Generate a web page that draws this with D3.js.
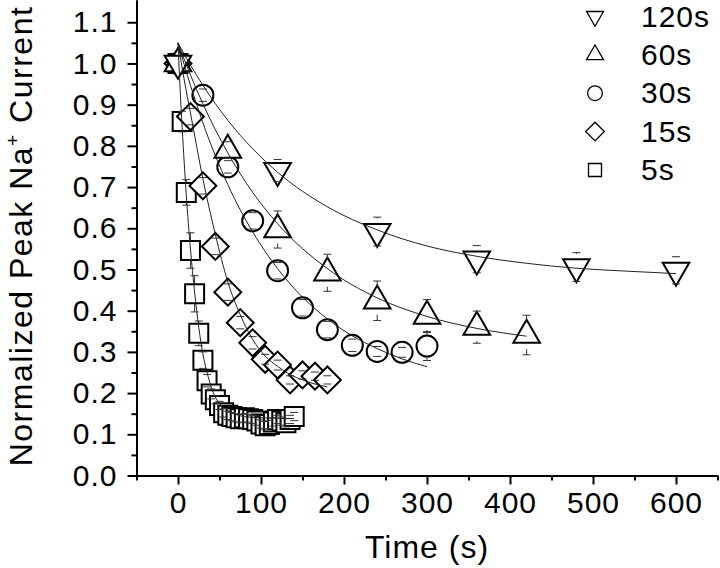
<!DOCTYPE html>
<html>
<head>
<meta charset="utf-8">
<script src="https://cdn.jsdelivr.net/npm/d3@7"></script>
<style>
    body { margin: 0; background: white; }
    text { font-family: "Liberation Sans", Arial, sans-serif; fill: black; }
</style>
</head>
<body>
<div id="container"></div>
<script>
// pulse interval series: time (s), normalized current, error
const t120 = [0, 120, 240, 360, 480, 600]
const v120 = [1.0, 0.740, 0.592, 0.525, 0.506, 0.498]
const e120 = [0, 0.027, 0.035, 0.033, 0.035, 0.033]

const t60 = [0, 60, 120, 180, 240, 300, 360, 420]
const v60 = [1.0, 0.790, 0.597, 0.492, 0.424, 0.387, 0.360, 0.341]
const e60 = [0, 0.02, 0.045, 0.045, 0.048, 0.04, 0.039, 0.048]

const t30 = [0, 30, 60, 90, 120, 150, 180, 210, 240, 270, 300]
const v30 = [1.0, 0.923, 0.749, 0.618, 0.497, 0.407, 0.354, 0.316, 0.301, 0.299, 0.314]
const e30 = [0, 0.015, 0.015, 0.02, 0.02, 0.02, 0.02, 0.015, 0.012, 0.012, 0.035]

const t15 = [0, 15, 30, 45, 60, 75, 90, 105, 120, 135, 150, 165, 180]
const v15 = [1.0, 0.871, 0.703, 0.556, 0.445, 0.371, 0.322, 0.282, 0.268, 0.232, 0.244, 0.241, 0.232]
const e15 = [0, 0.02, 0.02, 0.02, 0.02, 0.015, 0.015, 0.012, 0.012, 0.01, 0.01, 0.01, 0.01]

const t5 = [0, 5, 10, 15, 20, 25, 30, 35, 40, 45, 50, 55, 60, 65, 70, 75, 80, 85, 90, 95, 100, 105, 110, 115, 120, 125, 130, 135, 140]
const v5 = [1.0, 0.859, 0.687, 0.546, 0.441, 0.345, 0.280, 0.230, 0.198, 0.184, 0.170, 0.152, 0.146, 0.143, 0.140, 0.138, 0.140, 0.138, 0.136, 0.132, 0.125, 0.121, 0.124, 0.130, 0.136, 0.132, 0.128, 0.136, 0.143]
const e5 = [0, 0.025, 0.031, 0.043, 0.044, 0.03, 0.02, 0.015, 0.012, 0.01, 0.01, 0.01, 0.01, 0.01, 0.01, 0.01, 0.01, 0.01, 0.01, 0.01, 0.01, 0.01, 0.01, 0.01, 0.01, 0.01, 0.01, 0.01, 0.01]

// fitted decay curves
const fit120T = [0, 15, 30, 60, 90, 120, 180, 240, 300, 360, 420, 480, 540, 600]
const fit120V = [1.05, 0.996, 0.947, 0.862, 0.793, 0.736, 0.652, 0.596, 0.557, 0.532, 0.515, 0.503, 0.496, 0.490]
const fit60T = [0, 15, 30, 60, 90, 120, 180, 240, 300, 360, 420]
const fit60V = [1.05, 0.972, 0.902, 0.783, 0.687, 0.611, 0.502, 0.431, 0.386, 0.357, 0.338]
const fit30T = [0, 15, 30, 60, 90, 120, 150, 180, 210, 240, 270, 300]
const fit30V = [1.05, 0.947, 0.856, 0.706, 0.591, 0.502, 0.433, 0.380, 0.339, 0.308, 0.283, 0.264]
const fit15T = [0, 7.5, 15, 30, 45, 60, 75, 90, 105, 120, 135, 150, 165, 180]
const fit15V = [1.05, 0.96, 0.88, 0.72, 0.585, 0.47, 0.39, 0.33, 0.29, 0.265, 0.245, 0.232, 0.222, 0.215]
const fit5T = [0, 2.5, 5, 10, 15, 20, 25, 30, 35, 40, 45, 50, 60, 70, 80, 100, 120, 140]
const fit5V = [1.05, 0.94, 0.845, 0.68, 0.55, 0.445, 0.36, 0.295, 0.25, 0.215, 0.19, 0.175, 0.158, 0.148, 0.143, 0.14, 0.139, 0.138]

const legendLabels = ["120s", "60s", "30s", "15s", "5s"]
const xTicks = [0, 100, 200, 300, 400, 500, 600]
const yTicks = [0, 0.1, 0.2, 0.3, 0.4, 0.5, 0.6, 0.7, 0.8, 0.9, 1.0, 1.1]

const w = 720
const h = 568

const svg = d3.select("#container")
    .append("svg")
    .attr("width", w)
    .attr("height", h)
    .style("display", "block")
    .style("background-color", "white")

const xScale = d3.scaleLinear()
    .domain([-50, 650])
    .range([136.5, 717.5])
const yScale = d3.scaleLinear()
    .domain([0, 1.154])
    .range([475.5, 0])

// axes: major + minor ticks
const xAxis = d3.axisBottom(xScale)
    .tickValues(xTicks)
    .tickFormat(d3.format("d"))
    .tickSize(9)
    .tickSizeOuter(0)
    .tickPadding(7)
const xMinor = d3.axisBottom(xScale)
    .tickValues([-50, 50, 150, 250, 350, 450, 550, 650])
    .tickFormat("")
    .tickSize(5)
    .tickSizeOuter(0)
const yAxis = d3.axisLeft(yScale)
    .tickValues(yTicks)
    .tickFormat(d3.format(".1f"))
    .tickSize(9)
    .tickSizeOuter(0)
    .tickPadding(10)
const yMinor = d3.axisLeft(yScale)
    .tickValues(d3.range(0.05, 1.15, 0.1))
    .tickFormat("")
    .tickSize(5)
    .tickSizeOuter(0)

const axisStyle = (g) => {
    g.selectAll("path, line").attr("stroke", "black").attr("stroke-width", 2)
    g.selectAll("text")
        .style("font-size", "30px")
        .style("letter-spacing", "1px")
        .attr("fill", "black")
}

svg.append("g").attr("transform", `translate(0, ${yScale(0)})`).call(xMinor).call(axisStyle)
svg.append("g").attr("id", "x-axis").attr("transform", `translate(0, ${yScale(0)})`).call(xAxis).call(axisStyle)
svg.append("g").attr("transform", `translate(${xScale(-50)}, 0)`).call(yMinor).call(axisStyle)
svg.append("g").attr("id", "y-axis").attr("transform", `translate(${xScale(-50)}, 0)`).call(yAxis).call(axisStyle)

svg.append("text")
    .attr("x", 427)
    .attr("y", 558)
    .attr("text-anchor", "middle")
    .style("font-size", "32px")
    .style("letter-spacing", "1px")
    .text("Time (s)")

const yLabel = svg.append("text")
    .attr("transform", "translate(32, 236) rotate(-90)")
    .attr("text-anchor", "middle")
    .style("font-size", "32px")
    .style("letter-spacing", "1.5px")
yLabel.append("tspan").text("Normalized Peak Na")
yLabel.append("tspan").text("+").style("font-size", "19px").attr("dy", "-13")
yLabel.append("tspan").text(" Current").attr("dy", "13")

// gap = how far from the point the error line starts (Origin skips the symbol)
const series = [
    { t: t120, v: v120, e: e120, ft: fit120T, fv: fit120V, sym: d3.symbolTriangle, size: 306, rot: 180, gap: 13, lsize: 125 },
    { t: t60, v: v60, e: e60, ft: fit60T, fv: fit60V, sym: d3.symbolTriangle, size: 306, rot: 0, gap: 14, lsize: 125 },
    { t: t30, v: v30, e: e30, ft: fit30T, fv: fit30V, sym: d3.symbolCircle, size: 346, rot: 0, gap: 11, lsize: 170 },
    { t: t15, v: v15, e: e15, ft: fit15T, fv: fit15V, sym: d3.symbolSquare, size: 361, rot: 45, gap: 13, lsize: 175 },
    { t: t5, v: v5, e: e5, ft: fit5T, fv: fit5V, sym: d3.symbolSquare, size: 361, rot: 0, gap: 10, lsize: 169 },
]

const line = d3.line()
    .x((d) => xScale(d[0]))
    .y((d) => yScale(d[1]))
    .curve(d3.curveMonotoneX)

const plot = svg.append("g")

// symbols first (5s at the bottom), white filled
series.slice().reverse().forEach((s) => {
    plot.append("g")
        .selectAll("path")
        .data(s.t.map((t, i) => ({ t: t, v: s.v[i] })))
        .enter()
        .append("path")
        .attr("d", d3.symbol(s.sym, s.size))
        .attr("transform", (d) => `translate(${xScale(d.t)}, ${yScale(d.v)}) rotate(${s.rot})`)
        .attr("fill", "white")
        .attr("stroke", "black")
        .attr("stroke-width", 2)
})

series.forEach((s) => {
    const pts = s.t.map((t, i) => ({ t: t, v: s.v[i], e: s.e[i] }))
        .filter((d) => d.e > 0)
    const err = plot.append("g")
        .attr("stroke", "#333")
        .attr("stroke-width", 1)
        .selectAll("g")
        .data(pts)
        .enter()
        .append("g")
    err.append("path")
        .attr("d", (d) => {
            const x = xScale(d.t)
            const y0 = yScale(d.v)
            const top = yScale(d.v + d.e)
            const bot = yScale(d.v - d.e)
            let p = `M${x - 4},${top}H${x + 4}M${x - 4},${bot}H${x + 4}`
            if (y0 - top > s.gap) p += `M${x},${top}V${y0 - s.gap}M${x},${bot}V${y0 + s.gap}`
            return p
        })
        .attr("fill", "none")
})

series.forEach((s) => {
    plot.append("path")
        .datum(s.ft.map((t, i) => [t, s.fv[i]]))
        .attr("d", line)
        .attr("fill", "none")
        .attr("stroke", "#222")
        .attr("stroke-width", 1)
})

// legend
const legend = svg.append("g")
const legendY = [16.4, 54.8, 93.2, 131.6, 170]
series.forEach((s, i) => {
    legend.append("path")
        .attr("d", d3.symbol(s.sym, s.lsize))
        .attr("transform", `translate(595, ${legendY[i]}) rotate(${s.rot})`)
        .attr("fill", "none")
        .attr("stroke", "black")
        .attr("stroke-width", 1.3)
    legend.append("text")
        .attr("x", 641)
        .attr("y", 26.7 + i * 38.3)
        .style("font-size", "30px")
        .style("letter-spacing", "1px")
        .text(legendLabels[i])
})
</script>
</body>
</html>
